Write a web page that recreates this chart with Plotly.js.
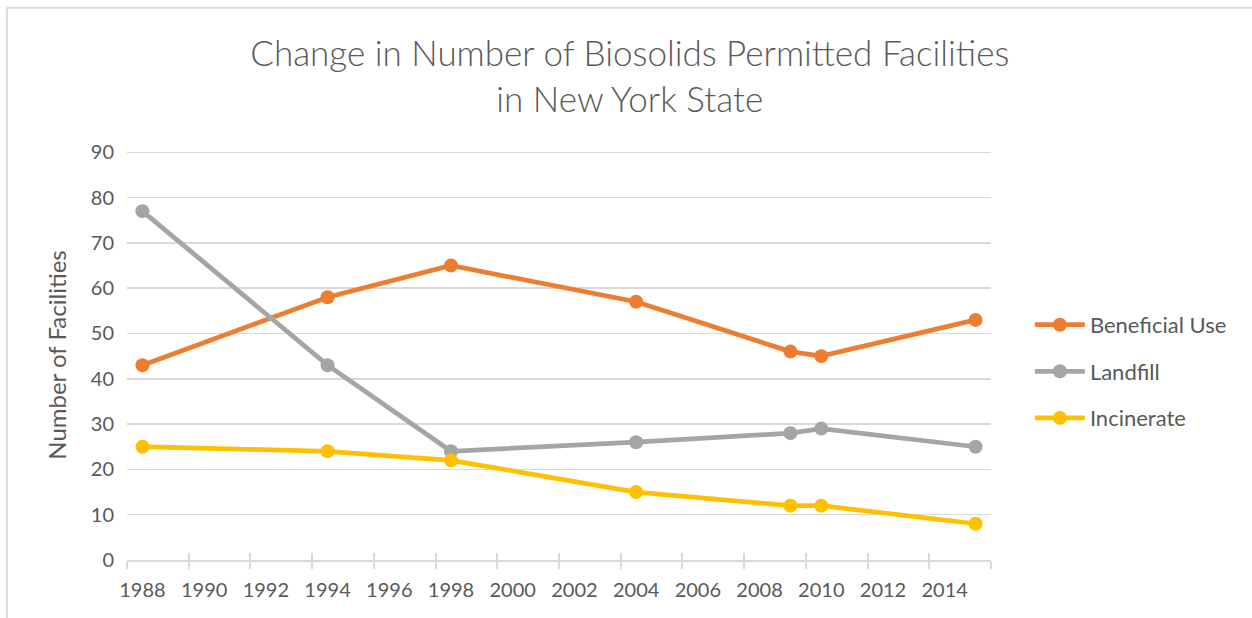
<!DOCTYPE html>
<html>
<head>
<meta charset="utf-8">
<script src="https://cdn.plot.ly/plotly-3.0.1.min.js"></script>
<style>html,body{margin:0;padding:0;background:#fff}#chart{width:1252px;height:618px}</style>
</head>
<body>
<div id="chart"></div>
<script>
const years = [1988, 1994, 1998, 2004, 2009, 2010, 2015];
const beneficialUse = [43, 58, 65, 57, 46, 45, 53];
const landfill = [77, 43, 24, 26, 28, 29, 25];
const incinerate = [25, 24, 22, 15, 12, 12, 8];
const tickYears = [1988, 1990, 1992, 1994, 1996, 1998, 2000, 2002, 2004, 2006, 2008, 2010, 2012, 2014];
const yTicks = [0, 10, 20, 30, 40, 50, 60, 70, 80, 90];

const FONT = 'Lato, "Open Sans", sans-serif';
const TXT = '#595959';
const GRID = '#d9d9d9';

function series(name, y, color, group) {
  return {
    x: years, y: y, name: name, type: 'scatter', mode: 'lines+markers',
    line: {color: color, width: 4.75},
    marker: {color: color, size: 14},
    legendgroup: group,
    xaxis: 'x', yaxis: 'y'
  };
}

const data = [
  series('Beneficial Use', beneficialUse, '#ED7D31', 'a'),
  series('Landfill', landfill, '#A5A5A5', 'b'),
  series('Incinerate', incinerate, '#FFC000', 'c')
];
data.push({x: [1987.5], y: [null], xaxis: 'x2', yaxis: 'y', showlegend: false, hoverinfo: 'skip', mode: 'markers'});

const layout = {
  width: 1252, height: 618,
  margin: {l: 127, r: 261, t: 150, b: 58},
  paper_bgcolor: '#fff', plot_bgcolor: '#fff',
  font: {family: FONT, color: TXT},
  title: {
    text: 'Change in Number of Biosolids Permitted Facilities<br>in New York State',
    font: {family: FONT, size: 35, color: TXT, weight: 300},
    x: 0.503, xanchor: 'center', y: 0.893, yanchor: 'middle', yref: 'container'
  },
  xaxis: {
    range: [1987.5, 2015.5],
    tickmode: 'array', tickvals: tickYears, ticktext: tickYears.map(String),
    ticks: '', showgrid: false, zeroline: false,
    showline: true, linecolor: GRID, linewidth: 2,
    tickfont: {family: FONT, size: 20, color: TXT},
    ticklabelstandoff: 11,
    minor: {tickmode: 'linear', tick0: 1987.5, dtick: 2, ticks: 'outside', ticklen: 7, tickcolor: GRID, tickwidth: 2, showgrid: false}
  },
  xaxis2: {
    range: [1987.5, 2015.5], overlaying: 'x', anchor: 'y', side: 'bottom',
    tickmode: 'linear', tick0: 1987.5, dtick: 2, ticks: 'inside', ticklen: 7,
    tickcolor: GRID, tickwidth: 2, showticklabels: false, showgrid: false, zeroline: false, showline: false
  },
  yaxis: {
    range: [0, 90.5], tickmode: 'array', tickvals: yTicks,
    showgrid: true, gridcolor: GRID, gridwidth: 1.5, zeroline: false, showline: false,
    ticks: '', tickfont: {family: FONT, size: 20, color: TXT},
    ticklabelstandoff: 12,
    title: {text: 'Number of Facilities', font: {family: FONT, size: 24, color: TXT}, standoff: 17}
  },
  legend: {
    x: 1.045, xanchor: 'left', y: 0.46, yanchor: 'middle',
    font: {family: FONT, size: 22, color: TXT},
    traceorder: 'grouped', tracegroupgap: 15,
    itemwidth: 50,
    bgcolor: 'rgba(0,0,0,0)'
  },
  shapes: [
    {type: 'line', xref: 'paper', yref: 'paper', x0: -0.139, x1: 1.5, y0: 1.347, y1: 1.347, line: {color: GRID, width: 2}},
    {type: 'line', xref: 'paper', yref: 'paper', x0: -0.139, x1: -0.139, y0: -0.5, y1: 1.347, line: {color: GRID, width: 2}}
  ],
  showlegend: true
};

Plotly.newPlot('chart', data, layout, {displayModeBar: false, staticPlot: true});
</script>
</body>
</html>
